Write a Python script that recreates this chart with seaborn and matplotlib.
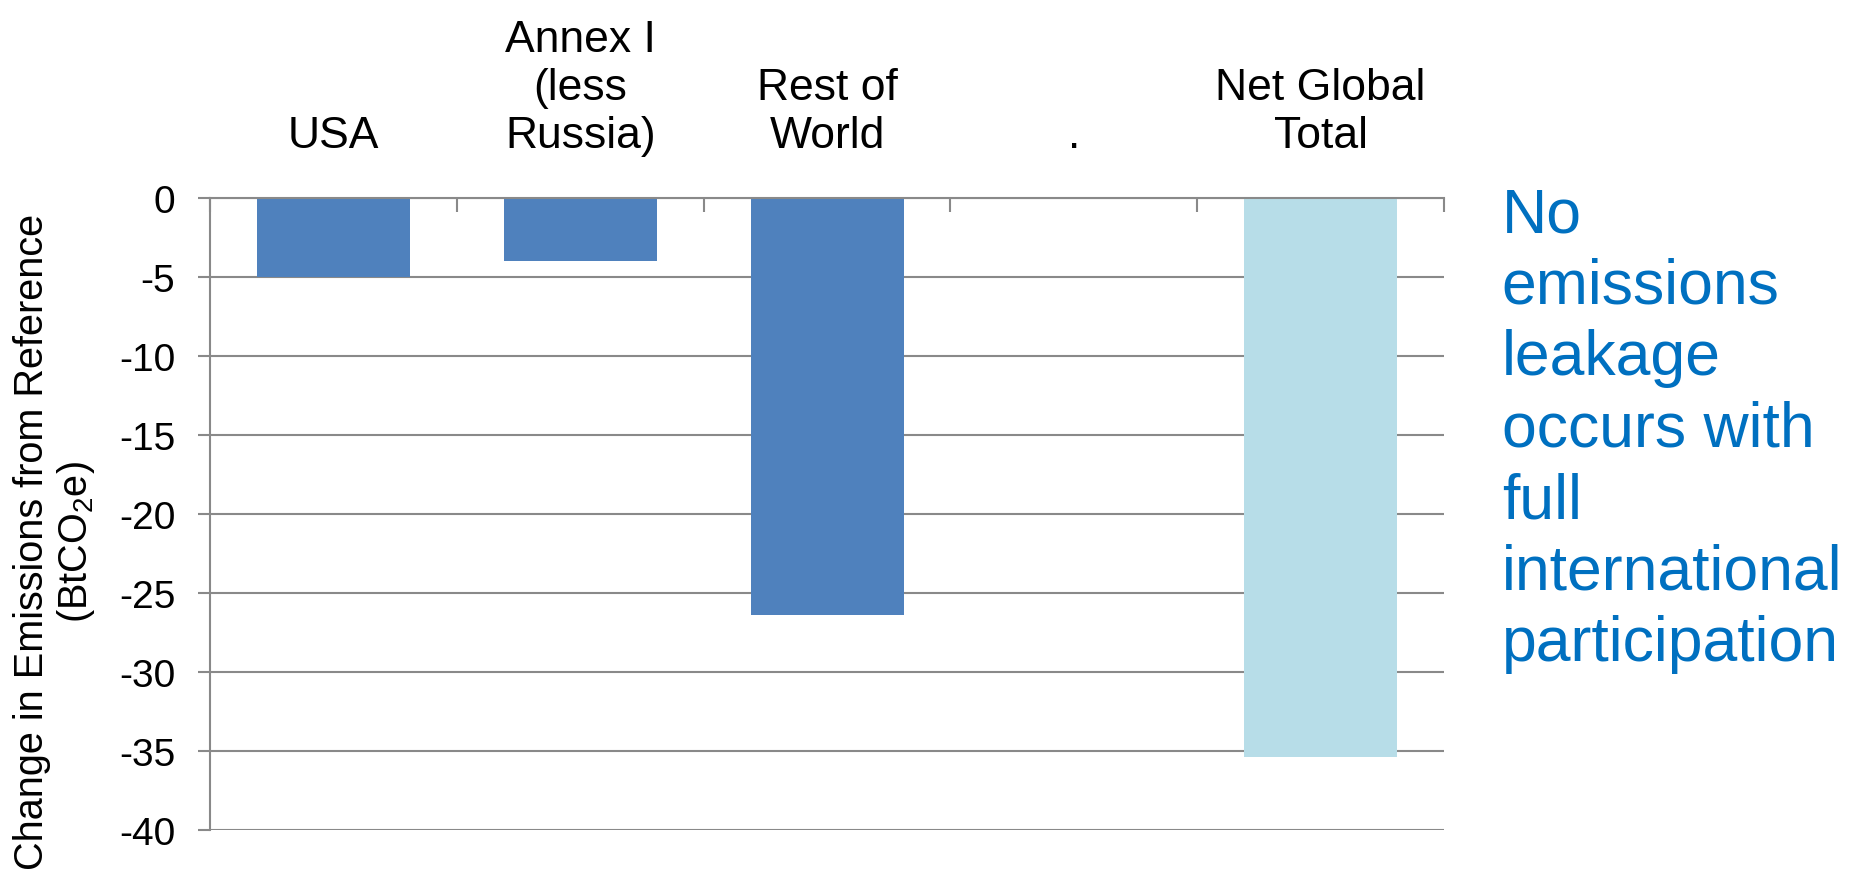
import matplotlib
matplotlib.use("Agg")
import matplotlib.pyplot as plt
from matplotlib.ticker import FixedLocator
import seaborn as sns
import pandas as pd

#   data
categories = ["USA", "Annex I\n(less\nRussia)", "Rest of\nWorld", ".", "Net Global\nTotal"]
change = [-5.0, -4.0, -26.4, 0.0, -35.4]
bar_colors = ["#4F81BD", "#4F81BD", "#4F81BD", "#4F81BD", "#B7DDE8"]
y_ticks = [0, -5, -10, -15, -20, -25, -30, -35, -40]
note = "No\nemissions\nleakage\noccurs with\nfull\ninternational\nparticipation"

sns.set_style("white")
plt.rcParams["font.family"] = ["Liberation Sans", "DejaVu Sans"]
plt.rcParams["mathtext.default"] = "regular"
plt.rcParams["axes.unicode_minus"] = False
plt.rcParams["text.color"] = "black"
plt.rcParams["xtick.labelcolor"] = "black"
plt.rcParams["ytick.labelcolor"] = "black"

gray = "#898989"

df = pd.DataFrame({"region": categories, "change": change})

fig = plt.figure(figsize=(18.54, 8.79), dpi=100)
ax = fig.add_axes([0.1133, 0.0546, 0.6656, 0.719])

sns.barplot(data=df, x="region", y="change", hue="region", palette=bar_colors,
            width=0.62, saturation=1, linewidth=0, legend=False, ax=ax)

ax.set_xlim(-0.5, 4.5)
ax.set_ylim(-40, 0)
ax.set_yticks(y_ticks)
ax.set_yticklabels([str(t) for t in y_ticks])
ax.yaxis.grid(True, color=gray, linewidth=1.5)
ax.set_axisbelow(True)

# category labels sit above the zero line
ax.xaxis.tick_top()
ax.tick_params(axis="x", which="major", length=0, pad=30, labelsize=32, labelcolor="black")
ax.xaxis.set_minor_locator(FixedLocator([-0.5 + i for i in range(6)]))
ax.tick_params(axis="x", which="minor", direction="in", length=10, width=1.5,
               color=gray, top=True, bottom=False)
ax.tick_params(axis="y", length=9, width=1.5, color=gray, pad=16, labelsize=28,
               left=True, labelcolor="black")
for lbl in ax.get_xticklabels():
    lbl.set_linespacing(1.22)

for side in ["right", "bottom"]:
    ax.spines[side].set_visible(False)
for side in ["top", "left"]:
    ax.spines[side].set_color(gray)
    ax.spines[side].set_linewidth(1.5)

ax.set_xlabel("")
ax.set_ylabel("")
fig.text(0.0297, 0.383, "Change in Emissions from Reference\n(BtCO$_2$e)",
         rotation=90, ha="center", va="center", fontsize=28.5, linespacing=1.12,
         multialignment="center", color="black")

fig.text(0.810, 0.788, note, ha="left", va="top", fontsize=45,
         color="#0070C0", linespacing=1.27)

fig.savefig("out.png", dpi=100)
